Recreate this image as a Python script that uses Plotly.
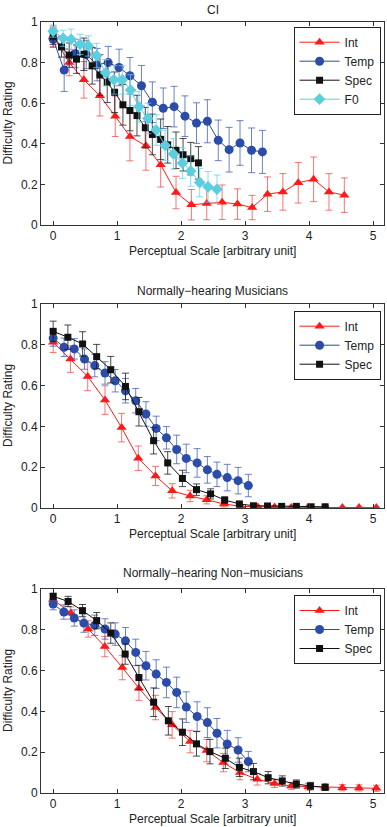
import plotly.graph_objects as go

# ---------------- data ----------------
# Panel 1: CI
ci_int_x = [0, 0.25, 0.48, 0.73, 0.97, 1.20, 1.45, 1.68, 1.92, 2.16, 2.40, 2.64, 2.88, 3.11, 3.35, 3.59, 3.83, 4.07, 4.31, 4.55]
ci_int_y = [0.93, 0.80, 0.715, 0.637, 0.536, 0.436, 0.39, 0.297, 0.16, 0.100, 0.106, 0.112, 0.103, 0.086, 0.152, 0.163, 0.208, 0.225, 0.163, 0.147]
ci_int_e = [0.05, 0.065, 0.09, 0.1, 0.1, 0.12, 0.12, 0.11, 0.08, 0.075, 0.08, 0.085, 0.075, 0.06, 0.085, 0.09, 0.1, 0.11, 0.09, 0.085]

ci_temp_x = [0, 0.172, 0.344, 0.516, 0.688, 0.86, 1.03, 1.20, 1.38, 1.55, 1.72, 1.89, 2.06, 2.24, 2.41, 2.58, 2.75, 2.92, 3.10, 3.27]
ci_temp_y = [0.915, 0.763, 0.845, 0.84, 0.79, 0.80, 0.776, 0.735, 0.686, 0.605, 0.575, 0.583, 0.536, 0.502, 0.511, 0.417, 0.371, 0.404, 0.368, 0.36]
ci_temp_e = [0.04, 0.105, 0.07, 0.07, 0.08, 0.08, 0.09, 0.09, 0.1, 0.1, 0.1, 0.1, 0.1, 0.1, 0.106, 0.1, 0.11, 0.11, 0.11, 0.106]

ci_spec_x = [0, 0.13, 0.25, 0.365, 0.48, 0.61, 0.73, 0.845, 0.96, 1.09, 1.20, 1.31, 1.44, 1.55, 1.68, 1.79, 1.92, 2.03, 2.15, 2.27]
ci_spec_y = [0.93, 0.877, 0.837, 0.817, 0.841, 0.784, 0.739, 0.703, 0.654, 0.592, 0.564, 0.539, 0.479, 0.446, 0.422, 0.395, 0.368, 0.346, 0.327, 0.306]
ci_spec_e = [0.04, 0.05, 0.06, 0.07, 0.08, 0.09, 0.1, 0.1, 0.1, 0.1, 0.1, 0.1, 0.1, 0.1, 0.1, 0.09, 0.09, 0.08, 0.08, 0.08]

ci_f0_x = [0, 0.156, 0.28, 0.42, 0.55, 0.68, 0.82, 0.95, 1.08, 1.21, 1.34, 1.48, 1.61, 1.75, 1.88, 2.02, 2.15, 2.29, 2.42, 2.56]
ci_f0_y = [0.955, 0.92, 0.915, 0.89, 0.882, 0.835, 0.75, 0.715, 0.715, 0.665, 0.582, 0.525, 0.468, 0.392, 0.35, 0.305, 0.266, 0.209, 0.188, 0.176]
ci_f0_e = [0.03, 0.04, 0.05, 0.05, 0.05, 0.06, 0.065, 0.07, 0.07, 0.075, 0.075, 0.075, 0.075, 0.075, 0.075, 0.075, 0.075, 0.07, 0.075, 0.07]

# Panel 2: Normally-hearing Musicians
mu_int_x = [0, 0.27, 0.54, 0.81, 1.07, 1.33, 1.60, 1.86, 2.14, 2.40, 2.67, 2.93, 3.20, 3.46, 3.72, 3.98, 4.26, 4.52, 4.78, 5.05]
mu_int_y = [0.812, 0.73, 0.645, 0.529, 0.394, 0.244, 0.157, 0.084, 0.059, 0.04, 0.02, 0.008, 0.005, 0.005, 0.003, 0.003, 0.002, 0.002, 0.002, 0.002]
mu_int_e = [0.05, 0.065, 0.07, 0.07, 0.07, 0.06, 0.047, 0.035, 0.028, 0.02, 0.015, 0.006, 0.004, 0.004, 0.003, 0.003, 0.002, 0.002, 0.002, 0.002]

mu_temp_x = [0, 0.17, 0.33, 0.49, 0.65, 0.81, 0.97, 1.13, 1.29, 1.45, 1.61, 1.77, 1.93, 2.08, 2.25, 2.41, 2.56, 2.72, 2.89, 3.05]
mu_temp_y = [0.833, 0.788, 0.78, 0.73, 0.698, 0.662, 0.624, 0.575, 0.526, 0.461, 0.39, 0.344, 0.287, 0.243, 0.221, 0.187, 0.165, 0.149, 0.134, 0.11]
mu_temp_e = [0.04, 0.045, 0.05, 0.05, 0.055, 0.055, 0.055, 0.06, 0.06, 0.06, 0.06, 0.055, 0.07, 0.07, 0.07, 0.065, 0.06, 0.065, 0.065, 0.055]

mu_spec_x = [0, 0.23, 0.46, 0.68, 0.90, 1.13, 1.34, 1.57, 1.79, 2.02, 2.24, 2.46, 2.68, 2.91, 3.13, 3.35, 3.57, 3.80, 4.03, 4.25]
mu_spec_y = [0.866, 0.837, 0.804, 0.742, 0.678, 0.596, 0.472, 0.33, 0.221, 0.145, 0.09, 0.069, 0.039, 0.02, 0.011, 0.01, 0.008, 0.008, 0.006, 0.006]
mu_spec_e = [0.05, 0.06, 0.06, 0.06, 0.065, 0.065, 0.07, 0.065, 0.055, 0.04, 0.028, 0.025, 0.015, 0.008, 0.006, 0.005, 0.004, 0.004, 0.003, 0.003]

# Panel 3: Normally-hearing Non-musicians
nm_int_x = [0, 0.276, 0.547, 0.807, 1.08, 1.34, 1.60, 1.86, 2.14, 2.40, 2.66, 2.92, 3.19, 3.46, 3.72, 3.99, 4.25, 4.52, 4.78, 5.05]
nm_int_y = [0.948, 0.882, 0.804, 0.718, 0.615, 0.514, 0.419, 0.334, 0.252, 0.208, 0.149, 0.1, 0.067, 0.047, 0.034, 0.031, 0.028, 0.026, 0.025, 0.023]
nm_int_e = [0.02, 0.03, 0.04, 0.05, 0.06, 0.06, 0.06, 0.065, 0.055, 0.055, 0.045, 0.035, 0.028, 0.02, 0.016, 0.016, 0.015, 0.015, 0.015, 0.015]

nm_temp_x = [0, 0.167, 0.33, 0.48, 0.65, 0.81, 0.97, 1.13, 1.29, 1.45, 1.61, 1.77, 1.93, 2.08, 2.25, 2.41, 2.56, 2.72, 2.89, 3.05]
nm_temp_y = [0.926, 0.887, 0.858, 0.833, 0.822, 0.804, 0.779, 0.746, 0.689, 0.624, 0.583, 0.542, 0.493, 0.421, 0.375, 0.345, 0.293, 0.24, 0.211, 0.154]
nm_temp_e = [0.028, 0.035, 0.04, 0.045, 0.05, 0.05, 0.055, 0.065, 0.065, 0.07, 0.07, 0.075, 0.075, 0.075, 0.072, 0.073, 0.072, 0.067, 0.06, 0.05]

nm_spec_x = [0, 0.234, 0.458, 0.68, 0.90, 1.125, 1.34, 1.57, 1.80, 2.02, 2.24, 2.45, 2.69, 2.91, 3.13, 3.36, 3.58, 3.80, 4.02, 4.25]
nm_spec_y = [0.964, 0.939, 0.894, 0.845, 0.784, 0.681, 0.566, 0.445, 0.354, 0.298, 0.241, 0.203, 0.17, 0.126, 0.105, 0.075, 0.059, 0.044, 0.034, 0.028]
nm_spec_e = [0.015, 0.025, 0.03, 0.04, 0.05, 0.05, 0.06, 0.07, 0.07, 0.065, 0.06, 0.06, 0.05, 0.045, 0.04, 0.03, 0.025, 0.02, 0.018, 0.015]

panel_titles = ["CI", "Normally\u2212hearing Musicians", "Normally\u2212hearing Non\u2212musicians"]
x_title = "Perceptual Scale [arbitrary unit]"
y_title = "Difficulty Rating"
x_ticks = [0, 1, 2, 3, 4, 5]
y_ticks = [0, 0.2, 0.4, 0.6, 0.8, 1]
y_ticktext = ["0", "0.2", "0.4", "0.6", "0.8", "1"]

# ---------------- style ----------------
FONT = "Liberation Sans, Arial, Helvetica, sans-serif"
STY = {
    "Int":  dict(color="#ff1a1a", err="rgba(240,60,60,0.7)", symbol="triangle-up", size=9),
    "Temp": dict(color="#2b4ca8", err="rgba(60,90,175,0.75)", symbol="circle", size=9),
    "Spec": dict(color="#111111", err="rgba(30,30,30,0.8)", symbol="square", size=7),
    "F0":   dict(color="#5dcde0", err="rgba(100,205,225,0.75)", symbol="diamond", size=9),
}

W, H = 387, 827
ML, MR, MT, MB = 41, 3, 22, 34
PH = H - MT - MB
boxes = [(22, 225), (304, 508), (589, 793)]
title_gap = [12, 13, 16]
legend_top = [26.7, 310.7, 595]


def py(gy):
    return (H - MB - gy) / PH

panels = [
    [("Int", ci_int_x, ci_int_y, ci_int_e), ("Temp", ci_temp_x, ci_temp_y, ci_temp_e),
     ("Spec", ci_spec_x, ci_spec_y, ci_spec_e), ("F0", ci_f0_x, ci_f0_y, ci_f0_e)],
    [("Int", mu_int_x, mu_int_y, mu_int_e), ("Temp", mu_temp_x, mu_temp_y, mu_temp_e),
     ("Spec", mu_spec_x, mu_spec_y, mu_spec_e)],
    [("Int", nm_int_x, nm_int_y, nm_int_e), ("Temp", nm_temp_x, nm_temp_y, nm_temp_e),
     ("Spec", nm_spec_x, nm_spec_y, nm_spec_e)],
]

fig = go.Figure()
layout = dict(
    width=W, height=H, margin=dict(l=ML, r=MR, t=MT, b=MB),
    plot_bgcolor="white", paper_bgcolor="white",
    font=dict(family=FONT, size=12, color="#222"),
    showlegend=True,
)
annotations = []
xs_right = (384 - ML) / (W - ML - MR)

for i, series in enumerate(panels):
    n = "" if i == 0 else str(i + 1)
    leg = "legend" + n
    for name, xs, ys, es in series:
        s = STY[name]
        fig.add_trace(go.Scatter(
            x=xs, y=ys, name=name, mode="lines+markers",
            xaxis="x" + n, yaxis="y" + n, legend=leg,
            line=dict(color=s["color"], width=1),
            marker=dict(symbol=s["symbol"], size=s["size"], color=s["color"],
                        line=dict(width=0)),
            error_y=dict(type="data", array=es, visible=True, color=s["err"],
                         thickness=1, width=3.5),
        ))
    top, bot = boxes[i]
    dom = [py(bot), py(top)]
    layout["xaxis" + n] = dict(
        domain=[0, 1], anchor="y" + n, range=[-0.19, 5.17],
        tickvals=x_ticks, ticktext=[str(v) for v in x_ticks],
        ticks="inside", ticklen=4, tickcolor="#333", showline=True, linecolor="#333",
        linewidth=1, mirror="ticks", showgrid=False, zeroline=False,
        tickfont=dict(size=12, color="#222"),
    )
    layout["yaxis" + n] = dict(
        domain=dom, anchor="x" + n, range=[0, 1],
        tickvals=y_ticks, ticktext=y_ticktext,
        ticks="inside", ticklen=4, tickcolor="#333", showline=True, linecolor="#333",
        linewidth=1, mirror="ticks", showgrid=False, zeroline=False,
        tickfont=dict(size=12, color="#222"),
    )
    layout[leg] = dict(
        x=xs_right - 0.01, y=py(legend_top[i]), xanchor="right", yanchor="top",
        bgcolor="white", bordercolor="#222", borderwidth=1, itemwidth=40,
        font=dict(size=12, color="#222"), tracegroupgap=0,
    )
    annotations.append(dict(text=panel_titles[i], xref="paper", yref="paper",
                            x=0.5, y=py(top - title_gap[i]), showarrow=False,
                            xanchor="center", yanchor="middle", font=dict(size=12, color="#222")))
    annotations.append(dict(text=x_title, xref="paper", yref="paper",
                            x=0.5, y=py(bot + 26), showarrow=False,
                            xanchor="center", yanchor="middle", font=dict(size=12, color="#222")))
    annotations.append(dict(text=y_title, xref="paper", yref="paper",
                            x=(8 - ML) / (W - ML - MR), y=py((top + bot) / 2), showarrow=False,
                            textangle=-90, xanchor="center", yanchor="middle",
                            font=dict(size=12, color="#222")))

layout["annotations"] = annotations
fig.update_layout(**layout)
fig.write_html("out.html", config={"displayModeBar": False},
               post_script="document.body.style.margin='0';document.body.style.overflow='hidden';")
